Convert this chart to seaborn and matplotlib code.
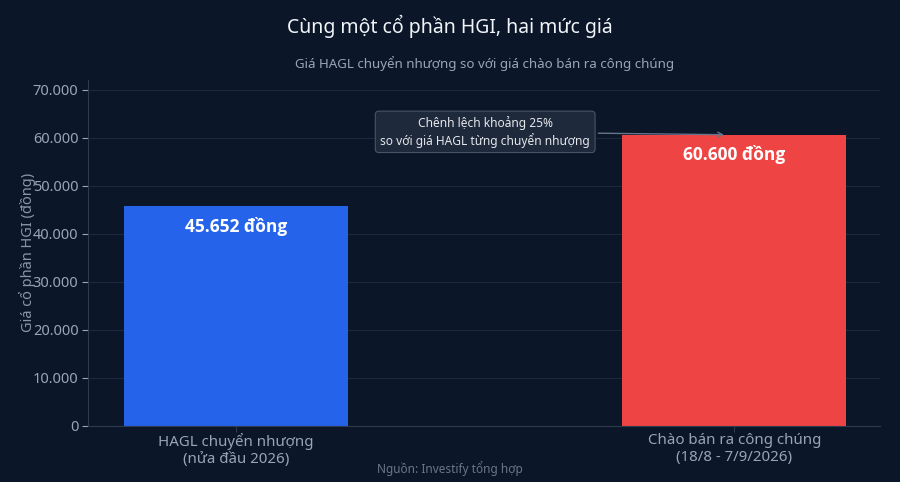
import numpy as np
import pandas as pd
import seaborn as sns
import matplotlib.pyplot as plt
from matplotlib.ticker import FuncFormatter

categories = ["HAGL chuyển nhượng\n(nửa đầu 2026)", "Chào bán ra công chúng\n(18/8 - 7/9/2026)"]
prices = [45652, 60600]
value_labels = ["45.652 đồng", "60.600 đồng"]
bar_colors = ["#2563eb", "#ef4444"]

BG = "#0b1628"

sns.set_theme(style="dark")
plt.rcParams['font.family'] = ['Noto Sans', 'DejaVu Sans']

df = pd.DataFrame({"cat": categories, "price": prices})

fig, ax = plt.subplots(figsize=(9, 4.82), dpi=100)
fig.patch.set_facecolor(BG)
ax.set_facecolor(BG)
fig.subplots_adjust(left=0.098, right=0.978, top=0.834, bottom=0.117)

sns.barplot(data=df, x="cat", y="price", hue="cat", palette=bar_colors,
            width=0.45, legend=False, ax=ax, saturation=1, linewidth=0,
            edgecolor="none")

ax.set_xlim(-0.297, 1.293)
ax.set_ylim(0, 72000)
ax.set_yticks(np.arange(0, 70001, 10000))
ax.yaxis.set_major_formatter(FuncFormatter(lambda v, p: f"{int(v):,}".replace(",", ".")))
ax.grid(axis="y", color="#1c2a3d", linewidth=0.8)
ax.grid(axis="x", visible=False)
ax.set_axisbelow(True)

for s in ["top", "right"]:
    ax.spines[s].set_visible(False)
for s in ["left", "bottom"]:
    ax.spines[s].set_color("#2e3b4e")
    ax.spines[s].set_linewidth(0.8)

ax.tick_params(axis="both", colors="#9aa5b4", labelsize=10.5, length=4, width=0.8,
               left=True, bottom=True, pad=3)
ax.tick_params(axis="x", colors="#2e3b4e", labelcolor="#9aa5b4", labelsize=10.8, pad=1.5)
ax.set_xlabel("")
ax.set_ylabel("Giá cổ phần HGI (đồng)", color="#8a95a5", fontsize=10.5)
ax.yaxis.set_label_coords(-0.066, 0.5)

for i, (v, lab) in enumerate(zip(prices, value_labels)):
    ax.text(i, v - 2100, lab, ha="center", va="top", color="white",
            fontsize=12.5, fontweight="bold", family=["Open Sans", "Noto Sans", "DejaVu Sans"])

ax.annotate("Chênh lệch khoảng 25%\nso với giá HAGL từng chuyển nhượng",
            xy=(0.985, prices[1]), xytext=(0.5, 61200),
            ha="center", va="center", color="#e5e7eb", fontsize=8.6,
            bbox=dict(boxstyle="round,pad=0.42,rounding_size=0.3", fc="#1e293b",
                      ec="#475569", lw=0.8),
            arrowprops=dict(arrowstyle="->", color="#64748b", lw=1))

fig.suptitle("Cùng một cổ phần HGI, hai mức giá", color="#f1f5f9",
             fontsize=14, y=0.97)
ax.set_title("Giá HAGL chuyển nhượng so với giá chào bán ra công chúng",
             color="#9aa5b4", fontsize=9.6, pad=9)
fig.text(0.5, 0.018, "Nguồn: Investify tổng hợp", ha="center",
         color="#6b7685", fontsize=8.5)

fig.savefig("out.png", facecolor=BG)
